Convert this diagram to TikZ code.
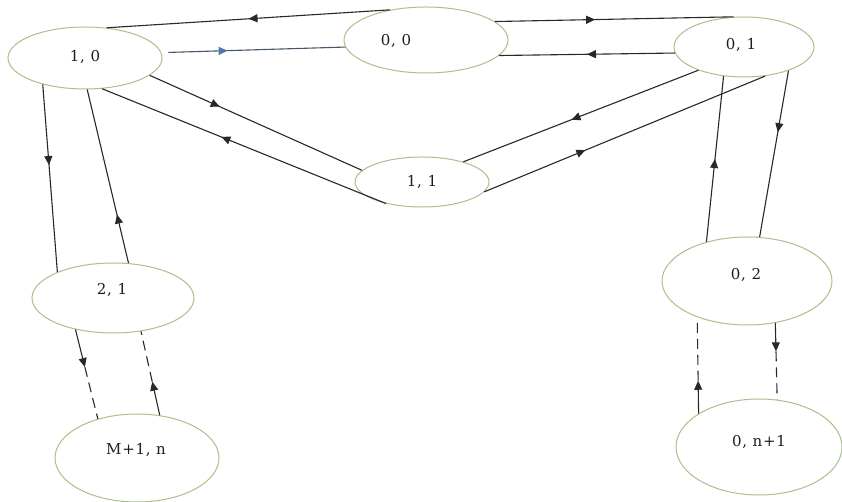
\documentclass[tikz,border=0pt]{standalone}
\usepackage{fontspec}
\setmainfont{DejaVu Serif}
\usetikzlibrary{arrows.meta,decorations.markings,shapes.geometric}
\definecolor{ellc}{RGB}{172,192,140}
\definecolor{linec}{RGB}{40,40,40}
\definecolor{bluec}{RGB}{80,120,170}
\definecolor{bluel}{RGB}{70,85,105}
\definecolor{txtc}{RGB}{30,30,30}
\begin{document}
\begin{tikzpicture}[x=1pt,y=1pt,
  state/.style={ellipse, draw=ellc, line width=1pt, fill=white, inner sep=0pt},
  lbl/.style={text=txtc, inner sep=0pt, font=\fontsize{15}{17}\selectfont\addfontfeatures{LetterSpace=5}},
  conn/.style={draw=linec, line width=1.1pt},
  tip/.style={-{Triangle[length=9pt,width=8pt]}},
  dsh/.style={dash pattern=on 10pt off 6pt},
  midarrow/.style={postaction={decorate}, decoration={markings, mark=at position #1 with {\arrow{Triangle[length=9pt,width=8pt]}}}},
  bluemid/.style={postaction={decorate}, decoration={markings, mark=at position #1 with {\arrow[bluec]{Triangle[length=9pt,width=8pt]}}}},
]
\useasboundingbox (0,0) rectangle (842,502);
\fill[white] (0,0) rectangle (842,502);

% states
\node[state, minimum width=154pt, minimum height=62pt] (n10) at (85,444) {};
\node[state, minimum width=164pt, minimum height=66pt] (n00) at (426,462) {};
\node[state, minimum width=140pt, minimum height=60pt] (n01) at (744,455) {};
\node[state, minimum width=134pt, minimum height=50pt] (n11) at (422,320) {};
\node[state, minimum width=162pt, minimum height=70pt] (n21) at (113,204) {};
\node[state, minimum width=164pt, minimum height=88pt] (nM) at (137,44) {};
\node[state, minimum width=170pt, minimum height=88pt] (n02) at (747,221) {};
\node[state, minimum width=166pt, minimum height=96pt] (n0n) at (759,55) {};

% labels
\node[lbl] (t10) at (85,445) {1, 0};
\node[lbl] (t00) at (396,461) {0, 0};
\node[lbl] (t01) at (741,457) {0, 1};
\node[lbl] (t11) at (422,320) {1, 1};
\node[lbl] (t21) at (112,212) {2, 1};
\node[lbl] (tM) at (136,52) {M+1, n};
\node[lbl] (t02) at (746,227) {0, 2};
\node[lbl] (t0n) at (759,60) {0, n+1};

% top row
\draw[conn, midarrow=0.5] (n00.140.5) -- (n10.54.6);
\draw[conn, midarrow=0.42] (n00.15.8) -- (n01.109.5);
\draw[conn, draw=bluel, shorten <=7pt, bluemid=0.36] (n10.4) -- (n00.185);
\draw[conn, midarrow=0.5] (n01.185.8) -- (n00.348.1);

% diagonals
\draw[conn, midarrow=0.33] (n10.345.8) -- (n11.169);
\draw[conn, midarrow=0.58] (n11.211) -- (n10.299.4);
\draw[conn, midarrow=0.54] (n01.207) -- (n11.26.6);
\draw[conn, midarrow=0.36] (n11.351) -- (n01.306);

% verticals
\draw[conn, midarrow=0.43] (n10.212) -- (n21.155.6);
\draw[conn, midarrow=0.28] (n21.66.8) -- (n10.274);
\draw[conn, midarrow=0.5] (n02.136.5) -- (n01.235.8);
\draw[conn, midarrow=0.37] (n01.332.4) -- (n02.74.4);

% partly dashed links
\path (n21.220.9) -- coordinate[pos=0.42] (cI) (nM.135.7);
\draw[conn, tip] (n21.220.9) -- (cI);
\draw[conn, dsh] (cI) -- (nM.135.7);

\path (nM.62.4) -- coordinate[pos=0.4] (cJ) (n21.310.6);
\draw[conn, tip] (nM.62.4) -- (cJ);
\draw[conn, dsh] (cJ) -- (n21.310.6);

\path (n0n.151.9) -- coordinate[pos=0.34] (cK) (n02.216.9);
\draw[conn, tip] (n0n.151.9) -- (cK);
\draw[conn, dsh] (cK) -- (n02.216.9);

\path (n02.304.3) -- coordinate[pos=0.37] (cL) (n0n.69);
\draw[conn, tip] (n02.304.3) -- (cL);
\draw[conn, dsh] (cL) -- (n0n.69);
\end{tikzpicture}
\end{document}
